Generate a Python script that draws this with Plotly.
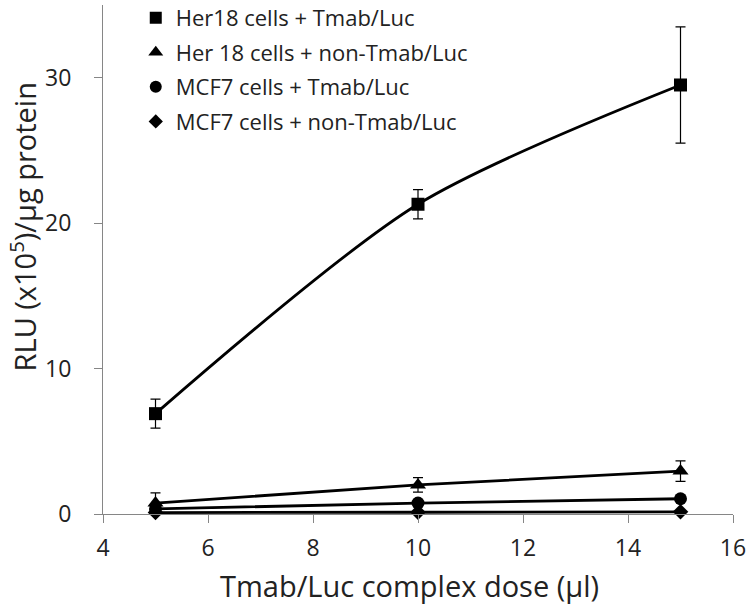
import plotly.graph_objects as go

# dose (ul) and RLU (x10^5)/ug protein
dose = [5, 10, 15]

her18_tmab = [6.9, 21.3, 29.5]
her18_tmab_err = [1.0, 1.0, 4.0]

her18_non = [0.75, 2.0, 2.95]
her18_non_err = [0.7, 0.5, 0.7]

mcf7_tmab = [0.35, 0.75, 1.05]
mcf7_tmab_err = [0.15, 0.15, 0.15]

mcf7_non = [0.1, 0.12, 0.15]
mcf7_non_err = [0.05, 0.05, 0.05]

names = ["Her18 cells + Tmab/Luc", "Her 18 cells + non-Tmab/Luc",
         "MCF7 cells + Tmab/Luc", "MCF7 cells + non-Tmab/Luc"]
values = [her18_tmab, her18_non, mcf7_tmab, mcf7_non]
errors = [her18_tmab_err, her18_non_err, mcf7_tmab_err, mcf7_non_err]
symbols = ["square", "triangle-up", "circle", "diamond"]
sizes = [13, 14, 13, 12]
legend_sizes = [12, 13, 12, 11]

FONT = "Open Sans"
AXIS_COLOR = "#868686"

fig = go.Figure()

# data series (smoothed lines, as in the original)
for name, y, err, sym, sz in zip(names, values, errors, symbols, sizes):
    fig.add_trace(go.Scatter(
        x=dose, y=y, mode="lines+markers", name=name, showlegend=False,
        line=dict(color="black", width=2.8, shape="spline", smoothing=0.8),
        marker=dict(symbol=sym, size=sz, color="black"),
        error_y=dict(type="data", array=err, visible=True,
                     color="black", thickness=1.2, width=5),
        cliponaxis=False,
    ))

# legend entries: marker only
for i, (name, sym, sz) in enumerate(zip(names, symbols, legend_sizes)):
    fig.add_trace(go.Scatter(
        x=[None], y=[None], mode="markers", name=name,
        marker=dict(symbol=sym, size=sz, color="black"),
        legendgroup=str(i),
    ))

fig.update_layout(
    width=750, height=606,
    margin=dict(l=103, r=17, t=5, b=92, autoexpand=False),
    paper_bgcolor="white", plot_bgcolor="white",
    font=dict(family=FONT, color="#222222", size=22),
    showlegend=True,
    legend=dict(x=0.052, y=1.016, xanchor="left", yanchor="top",
                font=dict(size=22, family=FONT), bgcolor="rgba(0,0,0,0)",
                tracegroupgap=3, itemsizing="trace"),
    xaxis=dict(
        range=[4, 16], tickvals=[4, 6, 8, 10, 12, 14, 16],
        showgrid=False, zeroline=False, automargin=False,
        showline=True, linecolor=AXIS_COLOR, linewidth=1,
        ticks="outside", ticklen=8, tickcolor=AXIS_COLOR,
        tickfont=dict(size=23), ticklabelstandoff=5,
    ),
    yaxis=dict(
        range=[0, 35], tickvals=[0, 10, 20, 30],
        showgrid=False, zeroline=False, automargin=False,
        showline=True, linecolor=AXIS_COLOR, linewidth=1,
        ticks="outside", ticklen=8, tickcolor=AXIS_COLOR,
        tickfont=dict(size=23), ticklabelstandoff=18,
    ),
    annotations=[
        dict(text="Tmab/Luc complex dose (µl)", xref="paper", yref="paper",
             x=0.487, y=-0.14, xanchor="center", yanchor="middle",
             showarrow=False, font=dict(size=29)),
        dict(text="RLU (x10<sup>5</sup>)/µg protein", xref="paper", yref="paper",
             x=-0.127, y=0.565, xanchor="center", yanchor="middle",
             textangle=-90, showarrow=False, font=dict(size=29)),
    ],
)

# drop the browser's default page margin so the figure sits at 0,0
fig.write_html("out.html", config={"displayModeBar": False},
               post_script="document.body.style.margin='0';")
